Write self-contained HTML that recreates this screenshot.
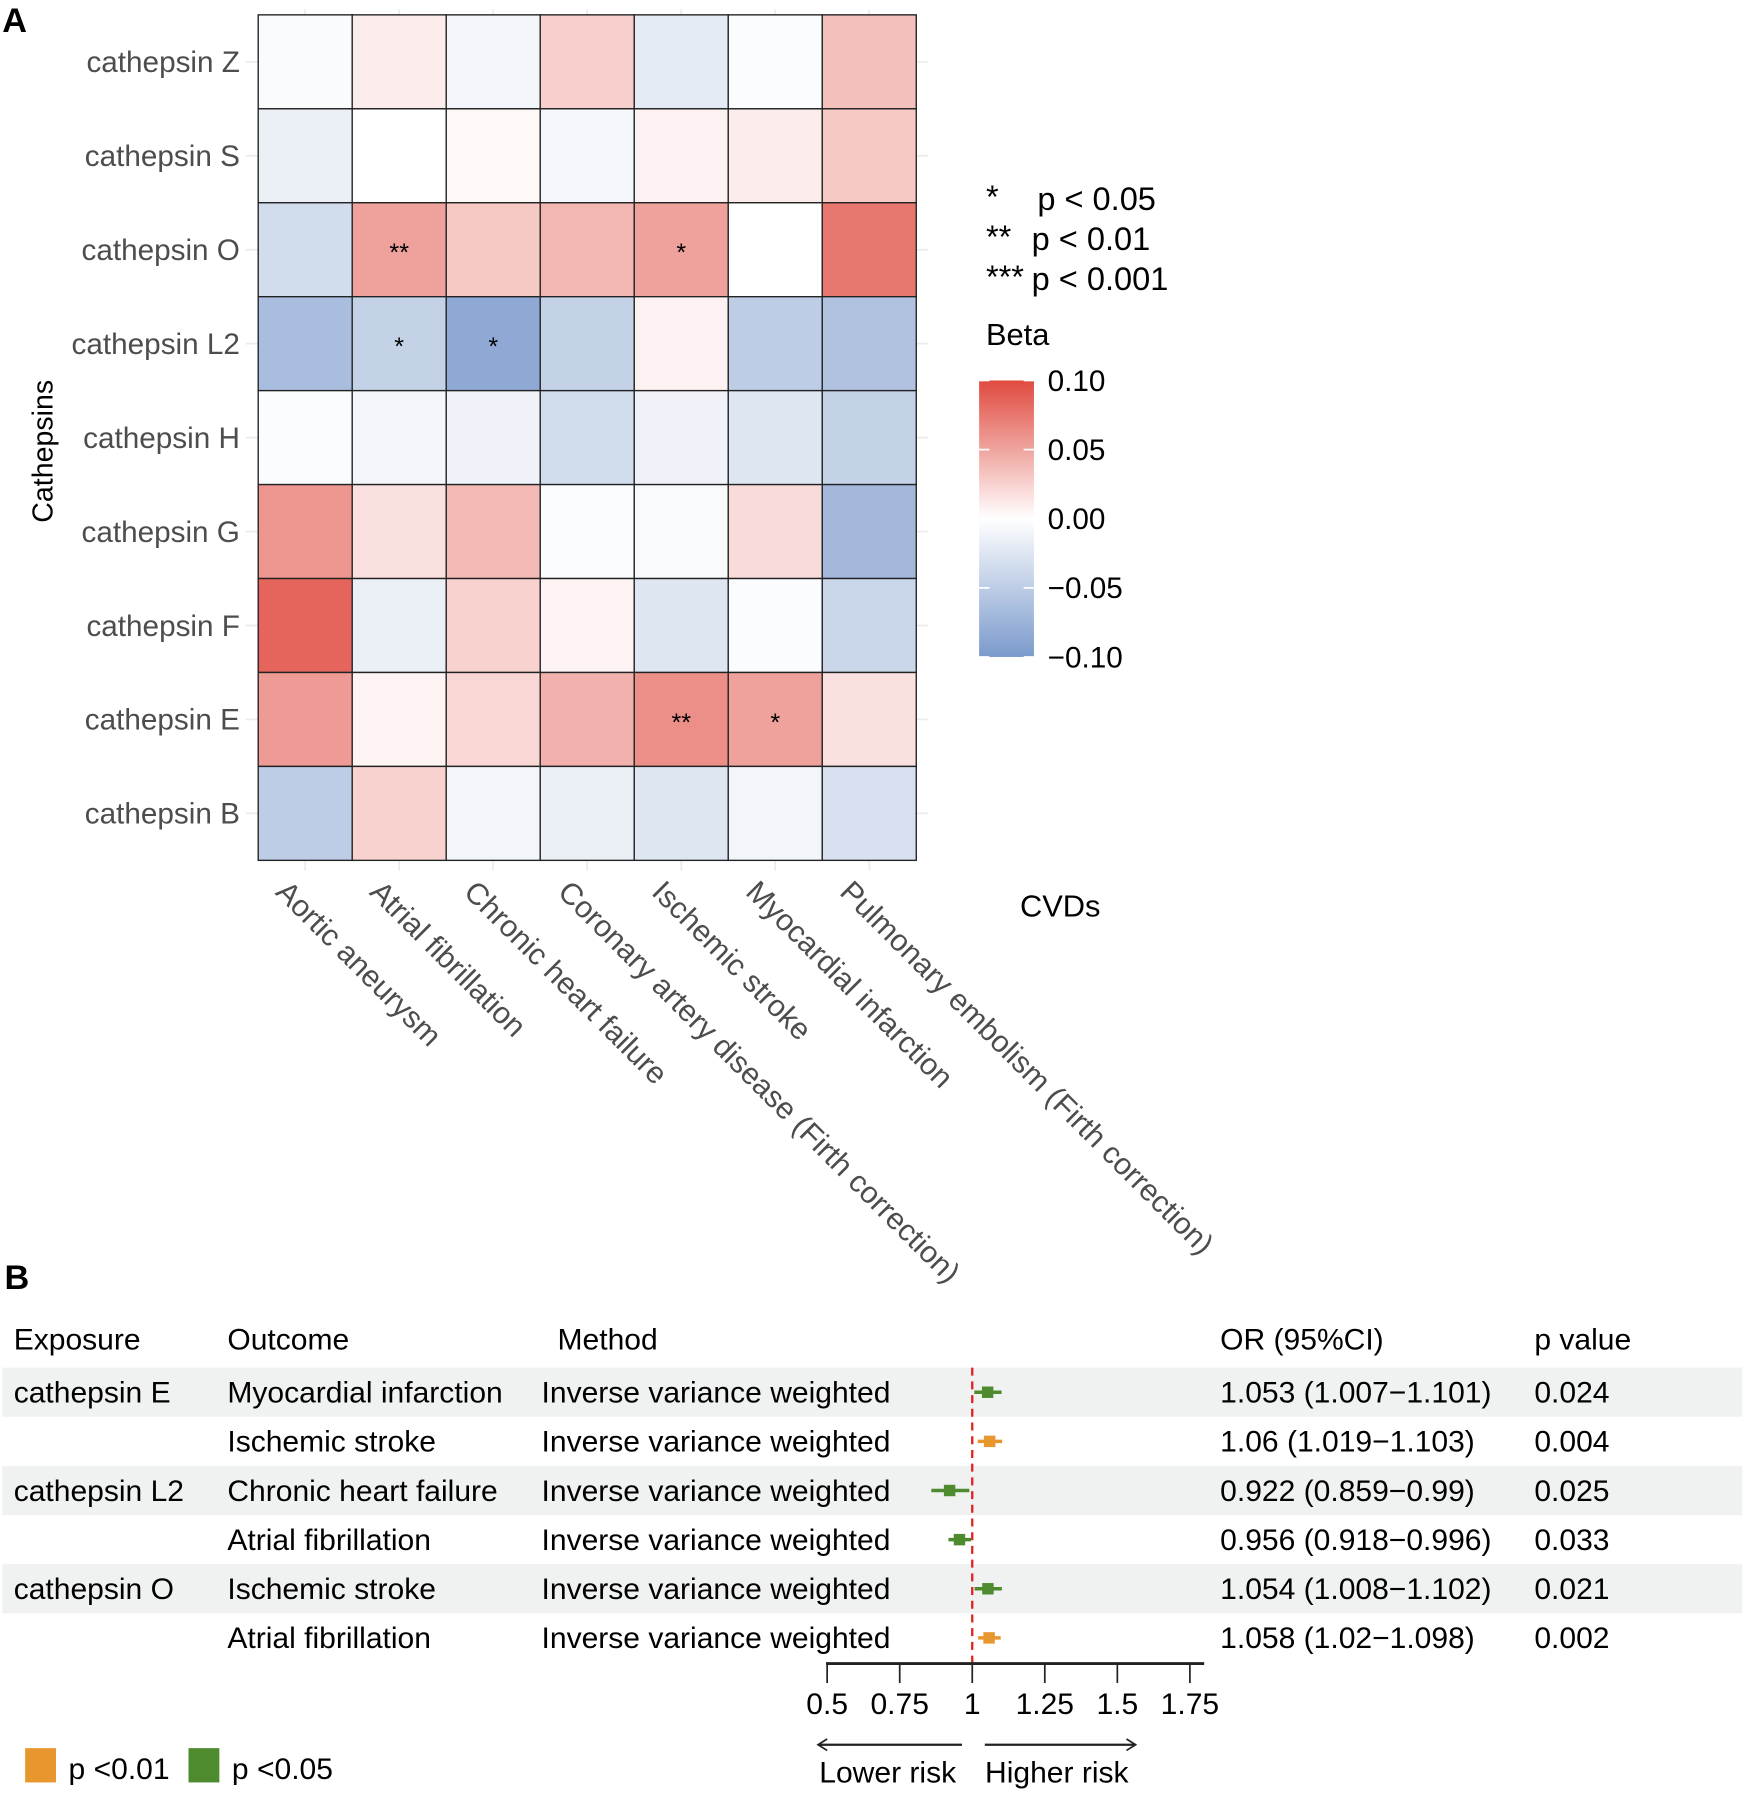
<!DOCTYPE html>
<html><head><meta charset="utf-8"><style>
html,body{margin:0;padding:0;background:#fff}
svg{display:block;font-family:"Liberation Sans",Arial,sans-serif}
</style></head><body>
<svg id="chart" width="1748" height="1795" viewBox="0 0 1530 1571" preserveAspectRatio="none">
<text x="2" y="28" font-size="30" font-weight="bold">A</text>
<text x="4" y="1128" font-size="30" font-weight="bold">B</text>
<g id="heat"></g>
<text x="928" y="802" font-size="27" text-anchor="middle">CVDs</text>
<text transform="translate(46,395) rotate(-90)" font-size="25" text-anchor="middle">Cathepsins</text>
<g font-size="28.5">
<text x="863" y="182">*</text><text x="908" y="184">p &lt; 0.05</text>
<text x="863" y="217">**</text><text x="903" y="219">p &lt; 0.01</text>
<text x="863" y="252">***</text><text x="903" y="254">p &lt; 0.001</text>
</g>
<text x="863" y="302" font-size="27">Beta</text>
<defs><linearGradient id="cg" x1="0" y1="1" x2="0" y2="0">
<stop offset="0" stop-color="#7B9ACC"/><stop offset="0.5" stop-color="#ffffff"/><stop offset="1" stop-color="#E04A3F"/></linearGradient></defs>
<rect x="857" y="333" width="48" height="242" fill="url(#cg)"/>
<g id="cbticks" font-size="26"></g>
<g id="forest"></g>
</svg>
<script>
const rows=["cathepsin Z","cathepsin S","cathepsin O","cathepsin L2","cathepsin H","cathepsin G","cathepsin F","cathepsin E","cathepsin B"];
const cols=["Aortic aneurysm","Atrial fibrillation","Chronic heart failure","Coronary artery disease (Firth correction)","Ischemic stroke","Myocardial infarction","Pulmonary embolism (Firth correction)"];
const betaZ=[-0.004,0.01,-0.01,0.026,-0.02,-0.003,0.035];
const betaS=[-0.015,0.0,0.004,-0.008,0.007,0.01,0.03];
const betaO=[-0.035,0.052,0.03,0.04,0.052,0.0,0.075];
const betaL2=[-0.065,-0.045,-0.085,-0.045,0.007,-0.05,-0.06];
const betaH=[-0.003,-0.01,-0.012,-0.035,-0.012,-0.025,-0.045];
const betaG=[0.058,0.017,0.038,-0.003,-0.005,0.02,-0.07];
const betaF=[0.085,-0.015,0.025,0.006,-0.025,-0.003,-0.04];
const betaE=[0.055,0.006,0.022,0.043,0.062,0.052,0.017];
const betaB=[-0.05,0.025,-0.01,-0.015,-0.025,-0.01,-0.03];
const stars=[["cathepsin O",1,"**"],["cathepsin O",4,"*"],["cathepsin L2",1,"*"],["cathepsin L2",2,"*"],["cathepsin E",4,"**"],["cathepsin E",5,"*"]];
const cbTicks=[0.10,0.05,0.00,-0.05,-0.10];
const NS="http://www.w3.org/2000/svg";
function mk(t,a,p){const e=document.createElementNS(NS,t);for(const k in a)e.setAttribute(k,a[k]);p.appendChild(e);return e;}
const all=[betaZ,betaS,betaO,betaL2,betaH,betaG,betaF,betaE,betaB];
const X0=226,Y0=13,CW=(802-226)/7,RH=(753-13)/9;
const xc=i=>X0+CW*i,yr=j=>Y0+RH*j;
function col(v){v=Math.max(-0.1,Math.min(0.1,v))/0.1;const w=[255,255,255],r=[224,74,63],b=[123,154,204];const t=v>=0?r:b,a=Math.abs(v);return "rgb("+w.map((c,k)=>Math.round(c+(t[k]-c)*a)).join(",")+")";}
const H=document.getElementById("heat");
for(let i=0;i<7;i++){mk("line",{x1:xc(i)+CW/2,x2:xc(i)+CW/2,y1:Y0-5,y2:762,stroke:"#ebebeb","stroke-width":1.5},H);}
for(let j=0;j<9;j++){mk("line",{x1:215,x2:812,y1:yr(j)+RH/2,y2:yr(j)+RH/2,stroke:"#ebebeb","stroke-width":1.5},H);}
all.forEach((arr,j)=>{arr.forEach((v,i)=>{
const r=mk("rect",{x:xc(i),y:yr(j),width:CW,height:RH,fill:col(v),stroke:"#222","stroke-width":1.2},H);

});
const t=mk("text",{x:210,y:yr(j)+RH/2+9,"text-anchor":"end","font-size":26,fill:"#4d4d4d"},H);t.textContent=rows[j];

});
stars.forEach(s=>{const j=rows.indexOf(s[0]);const t=mk("text",{x:xc(s[1])+CW/2,y:yr(j)+RH/2+10,"text-anchor":"middle","font-size":22},H);t.textContent=s[2];

});
cols.forEach((c,i)=>{const t=mk("text",{transform:"translate("+(xc(i)+CW/2-27)+",782) rotate(45)","font-size":26.5,fill:"#4d4d4d"},H);t.textContent=c;

});
const CB=document.getElementById("cbticks");
cbTicks.forEach(v=>{const y=454-v/0.1*121;mk("line",{x1:857,x2:866,y1:y,y2:y,stroke:"#fff","stroke-width":1.5},CB);mk("line",{x1:896,x2:905,y1:y,y2:y,stroke:"#fff","stroke-width":1.5},CB);
const t=mk("text",{x:917,y:y+9},CB);t.textContent=(v<0?"\u2212":"")+Math.abs(v).toFixed(2);

});

// Forest
const exposures=["cathepsin E","","cathepsin L2","","cathepsin O",""];
const outcomes=["Myocardial infarction","Ischemic stroke","Chronic heart failure","Atrial fibrillation","Ischemic stroke","Atrial fibrillation"];
const orVals=[1.053,1.06,0.922,0.956,1.054,1.058];
const ciLow=[1.007,1.019,0.859,0.918,1.008,1.02];
const ciHigh=[1.101,1.103,0.99,0.996,1.102,1.098];
const orText=["1.053 (1.007\u22121.101)","1.06 (1.019\u22121.103)","0.922 (0.859\u22120.99)","0.956 (0.918\u22120.996)","1.054 (1.008\u22121.102)","1.058 (1.02\u22121.098)"];
const pVals=["0.024","0.004","0.025","0.033","0.021","0.002"];
const xTicks=[0.5,0.75,1,1.25,1.5,1.75];
const F=document.getElementById("forest");
const fx=v=>851+(v-1)*254;
const RY0=1197,RH2=43;
const FS=26.3;
const hdr=[["Exposure",12],["Outcome",199],["Method",488],["OR (95%CI)",1068],["p value",1343]];
hdr.forEach(h=>{const t=mk("text",{x:h[1],y:1181,"font-size":FS},F);t.textContent=h[0];

});
orVals.forEach((v,i)=>{const y=RY0+RH2*i;
if(i%2==0){const r=mk("rect",{x:2,y:y,width:1523,height:RH2,fill:"#F0F2F1"},F);}
const cy=y+RH2/2+9;
[[exposures[i],12],[outcomes[i],199],["Inverse variance weighted",474],[orText[i],1068],[pVals[i],1343]].forEach(c=>{const t=mk("text",{x:c[1],y:cy,"font-size":FS},F);t.textContent=c[0];

});});
mk("line",{x1:851,x2:851,y1:1197,y2:1456,stroke:"#E0201E","stroke-width":2,"stroke-dasharray":"7,5"},F);
orVals.forEach((v,i)=>{const y=RY0+RH2*i+RH2/2;const c=parseFloat(pVals[i])<0.01?"#E8962E":"#4E8A2E";
const l=mk("line",{x1:fx(ciLow[i]),x2:fx(ciHigh[i]),y1:y,y2:y,stroke:c,"stroke-width":3},F);


const r=mk("rect",{x:fx(v)-5,y:y-5,width:10,height:10,fill:c},F);

});
mk("line",{x1:723,x2:1054,y1:1456,y2:1456,stroke:"#222","stroke-width":2.5},F);
xTicks.forEach(v=>{mk("line",{x1:fx(v),x2:fx(v),y1:1456,y2:1473,stroke:"#222","stroke-width":1.5},F);
const t=mk("text",{x:fx(v),y:1500,"text-anchor":"middle","font-size":FS},F);t.textContent=String(v);

});
mk("line",{x1:716,x2:842,y1:1527,y2:1527,stroke:"#222","stroke-width":2},F);
mk("polyline",{points:"724,1522 716,1527 724,1532",fill:"none",stroke:"#222","stroke-width":1.5},F);
mk("line",{x1:862,x2:994,y1:1527,y2:1527,stroke:"#222","stroke-width":2},F);
mk("polyline",{points:"986,1522 994,1527 986,1532",fill:"none",stroke:"#222","stroke-width":1.5},F);
[["Lower risk",777],["Higher risk",925]].forEach(a=>{const t=mk("text",{x:a[1],y:1560,"text-anchor":"middle","font-size":FS},F);t.textContent=a[0];

});
[["#E8962E",22,"p <0.01",60],["#4E8A2E",165,"p <0.05",203]].forEach(l=>{const r=mk("rect",{x:l[1],y:1530,width:27,height:30,fill:l[0]},F);


const t=mk("text",{x:l[3],y:1557,"font-size":FS},F);t.textContent=l[2];

});
</script>
</body></html>
